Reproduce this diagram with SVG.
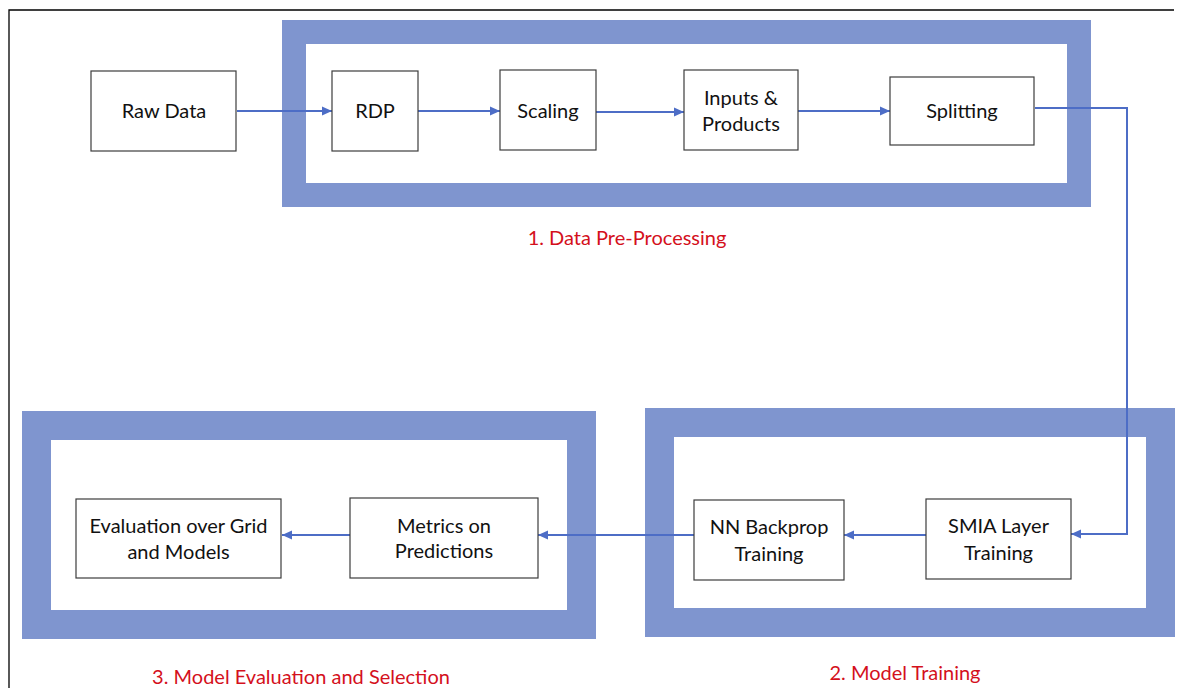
<svg xmlns="http://www.w3.org/2000/svg" width="1178" height="688" viewBox="0 0 1178 688">
  <style>
    .band { fill: #ffffff; stroke: #7f95cf; }
    .node rect { fill: #ffffff; stroke: #3c3c3c; stroke-width: 1.2; }
    .node text { font-family: Lato, "Liberation Sans", Arial, sans-serif; font-size: 20px; fill: #111111; text-anchor: middle; }
    .label { font-family: Lato, "Liberation Sans", Arial, sans-serif; font-size: 20px; fill: #d4101c; text-anchor: middle; }
    .conn { fill: none; stroke: #4d6dc6; stroke-width: 2; marker-end: url(#arrow); }
    .frame { fill: none; stroke: #000000; stroke-width: 1.3; }
  </style>
  <defs>
    <marker id="arrow" markerUnits="userSpaceOnUse" markerWidth="10" markerHeight="10" viewBox="0 0 10 10" refX="10" refY="5" orient="auto">
      <path d="M0,0.5 L10,5 L0,9.5 Z" fill="#4d6dc6"/>
    </marker>
  </defs>
  <rect width="1178" height="688" fill="#ffffff"/>
  <path class="frame" d="M9,688 V10 H1174"/>

  <g id="stages">
    <g id="stage1">
      <rect class="band" x="294" y="32" width="785" height="163" stroke-width="24"/>
      <text class="label" x="627" y="245">1. Data Pre-Processing</text>
    </g>
    <g id="stage2">
      <rect class="band" x="659.5" y="422.5" width="501" height="200" stroke-width="29"/>
      <text class="label" x="905" y="680">2. Model Training</text>
    </g>
    <g id="stage3">
      <rect class="band" x="36.5" y="425.5" width="545" height="199" stroke-width="29"/>
      <text class="label" x="301" y="684">3. Model Evaluation and Selection</text>
    </g>
  </g>

  <g id="connectors">
    <path class="conn" d="M237,111 H332"/>
    <path class="conn" d="M418,111 H500"/>
    <path class="conn" d="M596,112 H684"/>
    <path class="conn" d="M798,111 H890"/>
    <path class="conn" d="M1035,108 H1127 V534 H1071"/>
    <path class="conn" d="M926,535 H844"/>
    <path class="conn" d="M694,535 H538"/>
    <path class="conn" d="M350,535 H282"/>
  </g>

  <g id="raw-data" class="node">
    <rect x="91" y="71" width="145" height="80"/>
    <text x="164" y="118">Raw Data</text>
  </g>
  <g id="rdp" class="node">
    <rect x="332" y="71" width="86" height="80"/>
    <text x="375" y="118">RDP</text>
  </g>
  <g id="scaling" class="node">
    <rect x="500" y="70" width="96" height="80"/>
    <text x="548" y="118">Scaling</text>
  </g>
  <g id="inputs-products" class="node">
    <rect x="684" y="70" width="114" height="80"/>
    <text x="741" y="105">Inputs &amp;</text>
    <text x="741" y="131">Products</text>
  </g>
  <g id="splitting" class="node">
    <rect x="890" y="77" width="144" height="68"/>
    <text x="962" y="118">Splitting</text>
  </g>
  <g id="smia-layer-training" class="node">
    <rect x="926" y="499" width="145" height="80"/>
    <text x="998.5" y="533">SMIA Layer</text>
    <text x="998.5" y="560">Training</text>
  </g>
  <g id="nn-backprop-training" class="node">
    <rect x="694" y="500" width="150" height="80"/>
    <text x="769" y="534">NN Backprop</text>
    <text x="769" y="561">Training</text>
  </g>
  <g id="metrics-on-predictions" class="node">
    <rect x="350" y="498" width="188" height="80"/>
    <text x="444" y="533">Metrics on</text>
    <text x="444" y="558">Predictions</text>
  </g>
  <g id="evaluation-over-grid" class="node">
    <rect x="76" y="499" width="205" height="79"/>
    <text x="178.5" y="533">Evaluation over Grid</text>
    <text x="178.5" y="559">and Models</text>
  </g>
</svg>
